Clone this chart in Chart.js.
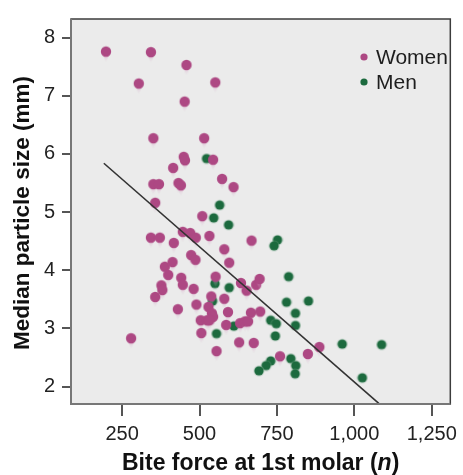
<!DOCTYPE html>
<html><head><meta charset="utf-8">
<script src="https://cdn.jsdelivr.net/npm/chart.js@4"></script>
<style>html,body{margin:0;padding:0;background:#fff}#wrap{width:463px;height:475px}</style>
</head><body><div id="wrap"><canvas id="c" width="463" height="475"></canvas></div>
<script>
const womenX = [198,343,458,304,551,452,351,515,449,453,544,415,573,610,351,369,432,440,357,509,343,372,417,446,470,488,532,473,487,388,413,399,441,446,377,380,357,481,430,490,538,529,540,544,504,525,532,506,279,555,552,668,580,596,580,592,586,634,683,694,652,666,696,631,647,657,628,675,760,850,887];
const womenY = [7.76,7.75,7.53,7.21,7.23,6.90,6.27,6.27,5.95,5.89,5.90,5.76,5.57,5.43,5.48,5.48,5.50,5.46,5.16,4.93,4.56,4.56,4.47,4.66,4.64,4.56,4.59,4.26,4.18,4.06,4.14,3.92,3.87,3.75,3.74,3.66,3.54,3.68,3.33,3.41,3.55,3.37,3.26,3.20,3.14,3.14,3.14,2.92,2.83,2.61,3.89,4.51,4.36,4.13,3.51,3.28,3.06,3.78,3.75,3.85,3.65,3.27,3.29,3.09,3.12,3.12,2.76,2.75,2.52,2.56,2.68];
const menX = [523,565,546,594,752,741,788,550,596,542,781,852,810,730,748,810,611,555,745,961,1088,795,811,809,730,715,692,1026];
const menY = [5.92,5.12,4.90,4.78,4.52,4.42,3.89,3.77,3.70,3.47,3.45,3.47,3.26,3.14,3.08,3.05,3.04,2.91,2.87,2.73,2.72,2.48,2.36,2.22,2.44,2.36,2.27,2.15];
const fitX = [191, 1079];
const fitY = [5.84, 1.71];
const xTicks = [250, 500, 750, 1000, 1250];
const xTickLabels = ['250', '500', '750', '1,000', '1,250'];
const yTicks = [2, 3, 4, 5, 6, 7, 8];
const seriesNames = ['Women', 'Men'];
const xTitleParts = ['Bite force at 1st molar (', 'n', ')'];
const yTitle = 'Median particle size (mm)';

const FAM = '"Liberation Sans", Arial, Helvetica, sans-serif';
const WOMEN_COL = '#ad4883';
const MEN_COL = '#1c6a3e';

function womenMarker() {
  const c = document.createElement('canvas');
  c.width = 14; c.height = 28;
  const g = c.getContext('2d');
  // faint tail shadow below
  const grad = g.createLinearGradient(0, 15, 0, 25);
  grad.addColorStop(0, 'rgba(205,140,180,0.55)');
  grad.addColorStop(1, 'rgba(220,190,215,0)');
  g.fillStyle = grad;
  g.beginPath();
  g.moveTo(3, 15); g.lineTo(11, 15); g.lineTo(7, 25); g.closePath();
  g.fill();
  g.fillStyle = WOMEN_COL;
  g.beginPath(); g.arc(7, 14, 5.2, 0, Math.PI * 2); g.fill();
  return c;
}
function menMarker() {
  const c = document.createElement('canvas');
  c.width = 12; c.height = 12;
  const g = c.getContext('2d');
  g.fillStyle = 'rgba(120,170,140,0.35)';
  g.beginPath(); g.arc(6, 6, 5.6, 0, Math.PI * 2); g.fill();
  g.fillStyle = MEN_COL;
  g.beginPath(); g.arc(6, 6, 4.6, 0, Math.PI * 2); g.fill();
  return c;
}

const toPts = (xs, ys) => xs.map((x, i) => ({ x: x, y: ys[i] }));

const decor = {
  id: 'decor',
  beforeDraw(chart) {
    const { ctx, chartArea: a } = chart;
    ctx.save();
    ctx.fillStyle = '#ebebeb';
    ctx.fillRect(a.left, a.top, a.right - a.left, a.bottom - a.top);
    ctx.restore();
  },
  afterDraw(chart) {
    const { ctx, chartArea: a } = chart;
    ctx.save();
    // frame
    ctx.strokeStyle = '#3c3c3c';
    ctx.lineWidth = 1.5;
    ctx.strokeRect(a.left, a.top, a.right - a.left, a.bottom - a.top);
    ctx.strokeStyle = '#777';
    ctx.lineWidth = 2;
    ctx.beginPath();
    ctx.moveTo(a.left, a.top); ctx.lineTo(a.left, a.bottom); ctx.lineTo(a.right, a.bottom);
    ctx.stroke();
    // legend
    const cols = [WOMEN_COL, MEN_COL];
    const ly = [57, 82];
    ctx.font = '21px ' + FAM;
    ctx.textBaseline = 'middle';
    ctx.textAlign = 'left';
    seriesNames.forEach((n, i) => {
      ctx.fillStyle = cols[i];
      ctx.beginPath(); ctx.arc(364, ly[i], 3.6, 0, Math.PI * 2); ctx.fill();
      ctx.fillStyle = '#1e1e1e';
      ctx.fillText(n, 376, ly[i] + 1);
    });
    // x title
    const fonts = ['bold 23px ' + FAM, 'italic bold 23px ' + FAM, 'bold 23px ' + FAM];
    let widths = xTitleParts.map((t, i) => { ctx.font = fonts[i]; return ctx.measureText(t).width; });
    const total = widths.reduce((s, w) => s + w, 0);
    let x = (a.left + a.right) / 2 - total / 2;
    ctx.fillStyle = '#111';
    ctx.textBaseline = 'alphabetic';
    xTitleParts.forEach((t, i) => { ctx.font = fonts[i]; ctx.fillText(t, x, 470); x += widths[i]; });
    // y title
    ctx.translate(29, 213);
    ctx.rotate(-Math.PI / 2);
    ctx.textAlign = 'center';
    ctx.font = 'bold 22.5px ' + FAM;
    ctx.fillText(yTitle, 0, 0);
    ctx.restore();
  }
};

new Chart(document.getElementById('c'), {
  type: 'scatter',
  data: {
    datasets: [
      { type: 'line', label: 'fit', data: toPts(fitX, fitY), borderColor: '#333', borderWidth: 1.6, pointRadius: 0, fill: false, order: 0 },
      { label: seriesNames[0], data: toPts(womenX, womenY), pointStyle: womenMarker(), order: 1 },
      { label: seriesNames[1], data: toPts(menX, menY), pointStyle: menMarker(), order: 2 }
    ]
  },
  options: {
    responsive: false,
    animation: false,
    devicePixelRatio: 1,
    layout: { padding: { top: 12, right: 5, left: 0, bottom: 0 } },
    plugins: { legend: { display: false }, tooltip: { enabled: false } },
    scales: {
      x: {
        type: 'linear', min: 85, max: 1310,
        afterBuildTicks: s => { s.ticks = xTicks.map(v => ({ value: v })); },
        afterFit: s => { s.height = 71; },
        ticks: { callback: v => xTickLabels[xTicks.indexOf(v)], font: { size: 20, family: FAM }, color: '#222', padding: 6, maxRotation: 0 },
        grid: { drawOnChartArea: false, drawTicks: true, tickLength: 12, color: '#555', lineWidth: 2 },
        border: { display: false }
      },
      y: {
        type: 'linear', min: 1.70, max: 8.32,
        afterBuildTicks: s => { s.ticks = yTicks.map(v => ({ value: v })); },
        afterFit: s => { s.width = 71; },
        ticks: { font: { size: 20, family: FAM }, color: '#222', padding: 7 },
        grid: { drawOnChartArea: false, drawTicks: true, tickLength: 9, color: '#555', lineWidth: 2 },
        border: { display: false }
      }
    }
  },
  plugins: [decor]
});
</script>
</body></html>
